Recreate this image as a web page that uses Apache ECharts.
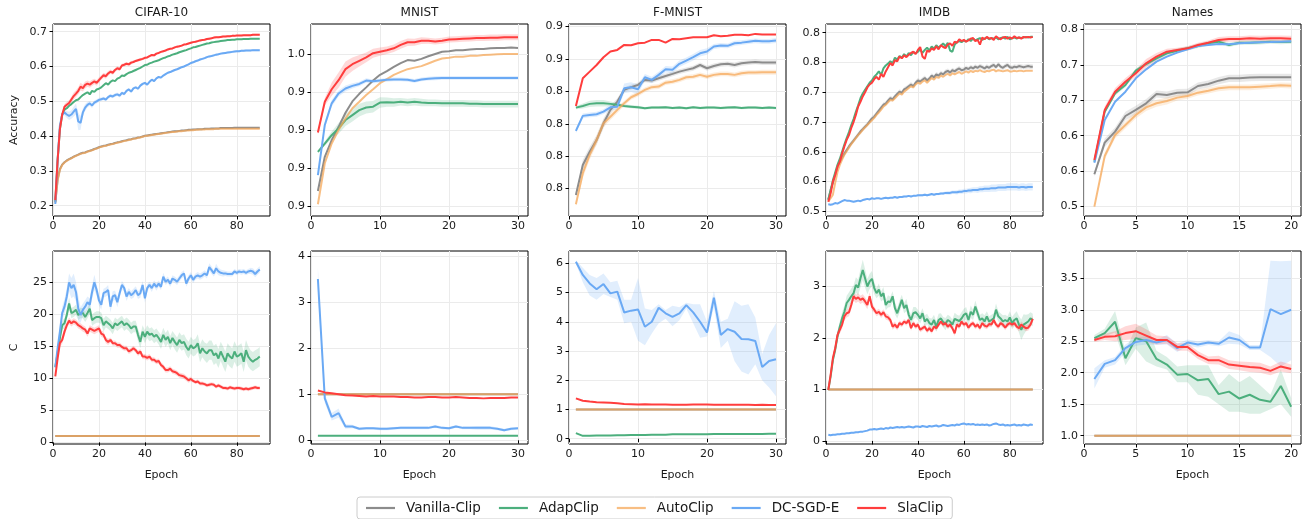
<!DOCTYPE html>
<html>
<head>
<meta charset="utf-8">
<script src="https://cdn.jsdelivr.net/npm/echarts@6/dist/echarts.min.js"></script>
<style>
  html, body { margin: 0; padding: 0; background: #fff; }
  #chart { width: 1310px; height: 519px; }
</style>
</head>
<body>
<div id="chart"></div>
<script>
const methods = ['Vanilla-Clip', 'AdapClip', 'AutoClip', 'DC-SGD-E', 'SlaClip'];
const colors = ['#8c8c8c', '#4caf7d', '#f5a85a', '#6aa9f4', '#ff3d3d'];
const lineAlpha = [1, 1, 0.75, 1, 1];

// ---- CIFAR-10 accuracy (90 epochs)
const cifarAccVanilla = [
  .21,.275,.305,.318,.325,.33,.334,.337,.341,.344,
  .347,.35,.352,.353,.356,.358,.36,.363,.365,.368,
  .37,.372,.373,.375,.377,.378,.38,.382,.383,.385,
  .387,.388,.39,.391,.393,.394,.396,.397,.399,.401,
  .402,.403,.404,.405,.406,.407,.408,.409,.41,.411,
  .412,.413,.414,.414,.415,.416,.416,.417,.418,.418,
  .419,.419,.42,.42,.42,.421,.421,.421,.422,.422,
  .422,.422,.423,.423,.423,.423,.423,.423,.424,.424,
  .424,.424,.424,.424,.424,.424,.424,.424,.424,.424];
const cifarAccAdap = [
  .212,.33,.42,.462,.476,.48,.487,.492,.498,.503,
  .505,.512,.518,.522,.526,.52,.53,.527,.534,.536,
  .54,.546,.552,.548,.556,.56,.558,.565,.568,.574,
  .573,.578,.582,.584,.587,.59,.593,.596,.6,.604,
  .605,.609,.611,.614,.616,.618,.621,.624,.626,.629,
  .631,.634,.636,.638,.641,.643,.645,.647,.65,.652,
  .655,.656,.658,.66,.662,.664,.666,.667,.669,.67,
  .671,.672,.673,.674,.675,.676,.676,.677,.677,.678,
  .678,.678,.679,.679,.679,.68,.68,.68,.68,.68];
const cifarAccAuto = [
  .208,.272,.303,.317,.324,.329,.333,.336,.34,.343,
  .346,.349,.351,.352,.355,.357,.359,.362,.364,.367,
  .369,.371,.372,.374,.376,.377,.379,.381,.382,.384,
  .386,.387,.389,.39,.392,.393,.395,.396,.398,.4,
  .401,.402,.403,.404,.405,.406,.407,.408,.409,.41,
  .411,.412,.412,.413,.414,.414,.415,.416,.416,.417,
  .417,.418,.418,.419,.419,.419,.42,.42,.42,.42,
  .421,.421,.421,.421,.421,.421,.421,.421,.421,.421,
  .421,.421,.421,.421,.421,.421,.421,.421,.421,.421];
const cifarAccDc = [
  .205,.33,.43,.462,.468,.462,.458,.462,.47,.478,
  .442,.438,.468,.482,.49,.494,.488,.496,.5,.504,
  .506,.508,.505,.512,.516,.514,.518,.52,.516,.524,
  .521,.53,.534,.528,.537,.54,.536,.545,.55,.553,
  .548,.556,.562,.558,.566,.57,.568,.574,.578,.582,
  .584,.587,.59,.592,.595,.598,.6,.603,.606,.61,
  .612,.615,.617,.62,.622,.624,.627,.629,.63,.632,
  .634,.635,.637,.638,.639,.64,.641,.642,.643,.644,
  .644,.645,.645,.646,.646,.646,.647,.647,.647,.647];
const cifarAccSla = [
  .216,.33,.42,.462,.484,.49,.495,.505,.515,.522,
  .53,.542,.538,.547,.551,.548,.553,.557,.553,.561,
  .568,.575,.572,.58,.585,.582,.59,.595,.592,.603,
  .605,.608,.606,.611,.613,.616,.618,.62,.622,.625,
  .626,.63,.633,.632,.637,.639,.642,.644,.646,.649,
  .651,.652,.655,.657,.658,.66,.663,.664,.666,.668,
  .67,.671,.673,.675,.676,.677,.679,.68,.681,.683,
  .684,.684,.685,.686,.686,.687,.687,.688,.688,.689,
  .689,.689,.69,.69,.69,.69,.691,.691,.691,.691];
const cifarAccDcSd = [
  .003,.006,.008,.008,.008,.01,.012,.012,.014,.016,
  .025,.02,.012,.01,.008,.007,.007,.006,.006,.006,
  .005,.005,.005,.005,.005,.005,.005,.005,.005,.005,
  .004,.004,.004,.004,.004,.004,.004,.004,.004,.004,
  .003,.003,.003,.003,.003,.003,.003,.003,.003,.003,
  .003,.003,.003,.003,.003,.003,.003,.003,.003,.003,
  .003,.003,.003,.003,.003,.003,.003,.003,.003,.003,
  .003,.003,.003,.003,.003,.003,.003,.003,.003,.003,
  .003,.003,.003,.003,.003,.003,.003,.003,.003,.003];
const cifarAccSlaSd = [
  .003,.006,.008,.008,.008,.008,.008,.009,.01,.01,
  .01,.011,.01,.01,.009,.009,.009,.008,.008,.008,
  .007,.007,.007,.007,.006,.006,.006,.006,.005,.005,
  .005,.005,.005,.005,.004,.004,.004,.004,.004,.004,
  .003,.003,.003,.003,.003,.003,.003,.003,.003,.003,
  .003,.003,.003,.003,.003,.003,.003,.003,.003,.003,
  .003,.003,.003,.003,.003,.003,.003,.003,.003,.003,
  .003,.003,.003,.003,.003,.003,.003,.003,.003,.003,
  .003,.003,.003,.003,.003,.003,.003,.003,.003,.003];

// ---- MNIST accuracy (30 epochs)
const mnistAccVanilla = [0.9139,0.9229,0.9273,0.9308,0.9345,0.9375,0.9395,0.9412,0.943,0.9445,0.9455,0.9466,0.9476,0.9484,0.9482,0.9487,0.9494,0.95,0.9506,0.9507,0.951,0.951,0.9512,0.9513,0.9513,0.9515,0.9516,0.9516,0.9517,0.9516];
const mnistAccAdap = [0.9242,0.9264,0.9286,0.9304,0.9326,0.9339,0.9352,0.9359,0.9361,0.9372,0.9373,0.9372,0.9374,0.9372,0.9374,0.9372,0.9371,0.9371,0.937,0.937,0.937,0.937,0.9369,0.9369,0.9368,0.9368,0.9368,0.9368,0.9368,0.9368];
const mnistAccAuto = [0.9104,0.9212,0.9264,0.93,0.933,0.9357,0.9374,0.9392,0.9407,0.9423,0.9434,0.9445,0.9453,0.946,0.9464,0.9468,0.9475,0.9482,0.9488,0.949,0.9493,0.9493,0.9495,0.9495,0.9497,0.9498,0.9499,0.95,0.95,0.95];
const mnistAccDc = [0.9181,0.9313,0.937,0.9396,0.9409,0.9416,0.9421,0.943,0.9428,0.943,0.9432,0.9433,0.9433,0.9432,0.9429,0.9433,0.9435,0.9436,0.9437,0.9437,0.9437,0.9437,0.9437,0.9437,0.9437,0.9437,0.9437,0.9437,0.9437,0.9437];
const mnistAccSla = [0.9293,0.9374,0.9407,0.9431,0.946,0.9473,0.9482,0.9491,0.9502,0.9506,0.951,0.9515,0.9524,0.9531,0.9531,0.9535,0.9535,0.9533,0.9535,0.9538,0.9539,0.954,0.9541,0.9542,0.9542,0.9543,0.9543,0.9544,0.9544,0.9544];
const mnistAccAdapSd = [0.0003,0.0006,0.001,0.0014,0.0016,0.0017,0.0017,0.0016,0.0015,0.0014,0.0012,0.0011,0.001,0.001,0.001,0.001,0.0009,0.0009,0.0009,0.0009,0.0009,0.0009,0.0009,0.0009,0.0009,0.0009,0.0009,0.0009,0.0009,0.0009];
const mnistAccDcSd = [0.0003,0.0008,0.0009,0.0008,0.0008,0.0007,0.0006,0.0006,0.0005,0.0005,0.0005,0.0005,0.0005,0.0005,0.0005,0.0005,0.0005,0.0005,0.0005,0.0005,0.0005,0.0005,0.0005,0.0005,0.0005,0.0005,0.0005,0.0005,0.0005,0.0005];
const mnistAccSlaSd = [0.0006,0.001,0.0018,0.002,0.002,0.0018,0.0015,0.0013,0.0012,0.0011,0.001,0.001,0.001,0.001,0.0009,0.0009,0.0008,0.0008,0.0008,0.0008,0.0008,0.0008,0.0008,0.0008,0.0008,0.0008,0.0008,0.0008,0.0008,0.0008];

// ---- F-MNIST accuracy (30 epochs)
const fmnistAccVanilla = [0.7761,0.7946,0.8028,0.81,0.8203,0.8286,0.8337,0.8409,0.8426,0.844,0.8471,0.8467,0.8481,0.8495,0.8508,0.8522,0.8533,0.8543,0.8563,0.8543,0.8557,0.8567,0.857,0.8563,0.8574,0.8578,0.8582,0.8578,0.8578,0.8578];
const fmnistAccAdap = [0.83,0.831,0.8323,0.8327,0.8327,0.8323,0.8317,0.831,0.8306,0.8302,0.8296,0.83,0.83,0.8302,0.8298,0.83,0.8296,0.8302,0.8298,0.83,0.83,0.8298,0.83,0.8302,0.8298,0.83,0.83,0.8298,0.83,0.8298];
const fmnistAccAuto = [0.7703,0.7895,0.8008,0.81,0.8203,0.8244,0.8286,0.8327,0.8364,0.8384,0.8409,0.8426,0.843,0.8454,0.846,0.8471,0.8487,0.8491,0.8502,0.8491,0.8502,0.8508,0.8508,0.8502,0.8512,0.8516,0.8516,0.8518,0.8518,0.8518];
const fmnistAccDc = [0.8156,0.8249,0.8255,0.8259,0.8275,0.8302,0.8306,0.8419,0.8426,0.8413,0.8487,0.8471,0.8502,0.8537,0.8533,0.857,0.859,0.8611,0.8635,0.8646,0.8677,0.8683,0.8681,0.8697,0.8701,0.8707,0.8712,0.8709,0.8709,0.8714];
const fmnistAccSla = [0.831,0.8481,0.8522,0.8563,0.8611,0.8646,0.8656,0.8687,0.8685,0.8697,0.8701,0.8718,0.8718,0.8701,0.8724,0.8722,0.8728,0.8734,0.8734,0.8734,0.8747,0.874,0.8744,0.8749,0.8749,0.8747,0.8755,0.8751,0.8751,0.8751];
const fmnistAccAdapSd = [0.001,0.0015,0.002,0.002,0.002,0.0015,0.0012,0.001,0.001,0.001,0.0008,0.0008,0.0008,0.0008,0.0008,0.0008,0.0008,0.0008,0.0008,0.0008,0.0008,0.0008,0.0008,0.0008,0.0008,0.0008,0.0008,0.0008,0.0008,0.0008];
const fmnistAccVanillaSd = [0.001,0.003,0.003,0.003,0.003,0.0025,0.002,0.0015,0.0015,0.0015,0.0015,0.0015,0.0015,0.0015,0.0015,0.0015,0.0015,0.0015,0.0015,0.0015,0.0015,0.0015,0.0015,0.0015,0.0015,0.0015,0.0015,0.0015,0.0015,0.0015];
const fmnistAccAutoSd = [0.001,0.003,0.003,0.003,0.0025,0.002,0.002,0.0015,0.0015,0.0015,0.0015,0.0015,0.0015,0.0015,0.0015,0.0015,0.0015,0.0015,0.0015,0.0015,0.0015,0.0015,0.0015,0.0015,0.0015,0.0015,0.0015,0.0015,0.0015,0.0015];
const fmnistAccDcSd = [0.0015,0.0015,0.0015,0.0015,0.0015,0.002,0.002,0.003,0.003,0.003,0.002,0.002,0.002,0.002,0.002,0.002,0.002,0.002,0.002,0.002,0.0015,0.0015,0.0015,0.0015,0.0015,0.0015,0.0015,0.0015,0.0015,0.0015];

// ---- IMDB accuracy (90 epochs)
const imdbAccVanilla = [
  .519,.536,.548,.561,.575,.583,.59,.597,.603,.609,
  .614,.619,.624,.629,.634,.638,.642,.646,.651,.656,
  .659,.664,.669,.674,.679,.681,.686,.69,.688,.693,
  .697,.701,.699,.705,.707,.71,.713,.71,.716,.72,
  .718,.721,.724,.72,.723,.728,.725,.73,.728,.732,
  .73,.734,.736,.733,.737,.735,.738,.74,.737,.738,
  .741,.739,.742,.74,.743,.741,.744,.742,.74,.743,
  .741,.744,.746,.742,.747,.743,.741,.744,.746,.742,
  .741,.743,.742,.744,.743,.742,.743,.744,.743,.743];
const imdbAccAdap = [
  .52,.535,.552,.565,.578,.588,.6,.612,.623,.633,
  .645,.655,.667,.678,.69,.698,.704,.71,.716,.72,
  .726,.73,.735,.729,.74,.745,.748,.752,.749,.758,
  .755,.761,.758,.764,.76,.766,.762,.768,.765,.768,
  .772,.766,.771,.775,.77,.777,.773,.779,.775,.778,
  .782,.777,.783,.77,.768,.78,.784,.786,.784,.787,
  .785,.789,.786,.79,.787,.789,.791,.788,.79,.792,
  .789,.791,.79,.792,.789,.791,.792,.79,.793,.789,
  .791,.792,.79,.792,.791,.792,.793,.792,.793,.793];
const imdbAccAuto = [
  .516,.522,.528,.548,.566,.578,.587,.595,.601,.607,
  .613,.618,.623,.628,.632,.637,.641,.645,.649,.653,
  .657,.662,.666,.671,.676,.679,.683,.687,.686,.69,
  .694,.698,.696,.701,.704,.707,.71,.708,.713,.716,
  .714,.718,.72,.716,.72,.724,.721,.726,.724,.728,
  .726,.729,.731,.728,.732,.73,.732,.734,.731,.733,
  .735,.733,.736,.734,.736,.735,.737,.735,.734,.736,
  .735,.737,.738,.735,.737,.736,.735,.736,.737,.735,
  .735,.736,.735,.736,.736,.735,.736,.736,.736,.736];
const imdbAccDc = [
  .512,.511,.512,.514,.513,.515,.517,.519,.518,.518,
  .517,.516,.517,.518,.517,.519,.52,.521,.52,.522,
  .521,.522,.522,.521,.522,.523,.522,.523,.523,.524,
  .523,.524,.524,.525,.525,.526,.525,.526,.526,.527,
  .527,.527,.528,.527,.528,.529,.528,.529,.529,.53,
  .53,.531,.531,.531,.532,.532,.532,.533,.533,.534,
  .534,.535,.535,.536,.536,.536,.537,.537,.538,.538,
  .538,.539,.539,.539,.54,.54,.54,.54,.541,.541,
  .541,.541,.541,.54,.541,.541,.54,.541,.541,.541];
const imdbAccSla = [
  .516,.53,.55,.561,.575,.583,.597,.609,.62,.628,
  .64,.65,.662,.676,.684,.693,.7,.708,.713,.716,
  .722,.726,.721,.731,.726,.735,.742,.749,.745,.754,
  .752,.76,.757,.762,.759,.763,.766,.768,.764,.771,
  .776,.76,.756,.77,.768,.774,.771,.777,.772,.779,
  .776,.774,.78,.782,.778,.785,.783,.789,.786,.788,
  .785,.787,.79,.791,.786,.788,.78,.792,.789,.793,
  .79,.791,.788,.794,.791,.789,.792,.793,.79,.792,
  .79,.794,.791,.792,.79,.793,.792,.793,.792,.793];
const imdbAccDcSd = [
  .001,.001,.001,.001,.001,.001,.001,.001,.001,.001,
  .001,.001,.001,.001,.001,.001,.001,.001,.001,.001,
  .001,.001,.001,.001,.001,.001,.001,.001,.001,.001,
  .0015,.0015,.0015,.0015,.0015,.0015,.0015,.0015,.0015,.0015,
  .002,.002,.002,.002,.002,.002,.002,.002,.002,.002,
  .0025,.0025,.003,.003,.003,.003,.0035,.0035,.0035,.004,
  .004,.004,.0045,.0045,.0045,.005,.005,.005,.0055,.0055,
  .0055,.006,.006,.006,.006,.006,.006,.006,.006,.006,
  .006,.006,.006,.006,.006,.006,.006,.006,.006,.006];
const imdbAccVanillaSd = [
  .002,.003,.004,.004,.004,.004,.004,.004,.004,.004,
  .004,.004,.004,.004,.004,.004,.004,.004,.004,.004,
  .004,.004,.004,.004,.004,.004,.004,.004,.004,.004,
  .004,.004,.004,.004,.004,.004,.004,.004,.004,.004,
  .004,.004,.004,.004,.004,.004,.004,.004,.004,.004,
  .004,.004,.004,.004,.004,.004,.004,.004,.004,.004,
  .004,.004,.004,.004,.004,.004,.004,.004,.004,.004,
  .004,.004,.004,.004,.004,.004,.004,.004,.004,.004,
  .004,.004,.004,.004,.004,.004,.004,.004,.004,.004];

// ---- Names accuracy (20 epochs)
const namesAccVanilla = [0.5456,0.5902,0.6057,0.6278,0.6363,0.6457,0.6588,0.6574,0.6607,0.6612,0.6701,0.6729,0.6776,0.6809,0.6809,0.6819,0.6823,0.6823,0.6823,0.6823];
const namesAccAdap = [0.5634,0.6339,0.6598,0.6715,0.6917,0.7011,0.7091,0.7162,0.7199,0.7232,0.7265,0.7303,0.7326,0.7279,0.7312,0.7312,0.7317,0.7326,0.7321,0.7326];
const namesAccAuto = [0.5,0.5714,0.601,0.6151,0.6292,0.64,0.6457,0.649,0.6537,0.656,0.6607,0.6635,0.6668,0.6682,0.6682,0.6682,0.6692,0.6701,0.6711,0.6706];
const namesAccDc = [0.562,0.6222,0.648,0.6621,0.6809,0.6936,0.7044,0.7115,0.7171,0.7218,0.7265,0.7279,0.7293,0.7288,0.7303,0.7312,0.7317,0.7321,0.7326,0.7331];
const namesAccSla = [0.5658,0.6363,0.6621,0.6762,0.688,0.7021,0.7115,0.7185,0.7209,0.7232,0.7279,0.7312,0.735,0.7364,0.7364,0.7373,0.7368,0.7373,0.7373,0.7368];
const namesAccVanillaSd = [0.003,0.006,0.006,0.006,0.006,0.006,0.005,0.005,0.005,0.005,0.005,0.005,0.005,0.005,0.005,0.005,0.005,0.005,0.005,0.005];
const namesAccAdapSd = [0.002,0.003,0.003,0.003,0.003,0.003,0.003,0.003,0.003,0.003,0.003,0.003,0.003,0.003,0.003,0.003,0.003,0.003,0.003,0.003];
const namesAccAutoSd = [0.002,0.005,0.005,0.005,0.005,0.005,0.005,0.005,0.004,0.004,0.004,0.004,0.004,0.004,0.004,0.004,0.004,0.004,0.004,0.004];
const namesAccSlaSd = [0.003,0.005,0.005,0.005,0.005,0.006,0.005,0.004,0.003,0.003,0.003,0.003,0.004,0.004,0.004,0.004,0.004,0.004,0.004,0.004];

// ---- clipping threshold C
const cifarCClip = [
  1,1,1,1,1,1,1,1,1,1, 1,1,1,1,1,1,1,1,1,1, 1,1,1,1,1,1,1,1,1,1,
  1,1,1,1,1,1,1,1,1,1, 1,1,1,1,1,1,1,1,1,1, 1,1,1,1,1,1,1,1,1,1,
  1,1,1,1,1,1,1,1,1,1, 1,1,1,1,1,1,1,1,1,1, 1,1,1,1,1,1,1,1,1,1];
const cifarCAdap = [
  11.8,13.9,16.3,18.3,18.6,19.9,21.7,20.2,20.4,20.7,
  19.9,20.2,20.2,19.6,20.2,20.9,19.1,19.4,19.6,19.6,
  19.4,18.3,18.9,18.6,18.3,17.8,18.6,18.3,18.6,18.9,
  18.3,18.6,18.3,17.8,18.1,18.1,16.8,15.7,17.3,16.5,
  17.3,16.8,17.0,16.5,16.8,16.3,15.7,16.8,16.0,16.5,
  15.5,16.3,15.7,15.2,16.0,15.5,15.7,14.9,14.4,15.2,
  14.7,14.9,15.5,13.9,14.7,14.2,13.9,14.4,14.4,13.6,
  13.9,13.1,14.2,13.4,12.6,13.9,13.4,13.1,14.2,13.4,
  13.6,13.9,12.6,14.4,13.4,12.9,12.6,12.9,13.1,13.4];
const cifarCDc = [
  11.7,14.7,17.3,20.2,21.2,22.8,25.0,24.1,24.6,23.5,
  20.9,19.9,20.7,21.2,21.9,21.5,23.5,25.0,23.8,22.2,
  21.5,23.3,23.5,23.8,21.2,22.8,23.0,21.9,23.3,24.6,
  24.1,22.8,23.5,23.0,23.3,23.8,23.0,23.3,24.6,22.5,
  24.1,24.6,24.1,24.8,24.3,24.8,24.3,25.9,25.1,25.4,
  24.8,25.6,25.4,25.1,25.6,26.1,26.4,24.8,25.6,26.1,
  25.4,25.9,26.1,25.9,26.1,26.4,26.1,27.4,26.9,26.4,
  27.2,26.7,26.5,26.4,26.4,26.3,26.3,26.3,26.7,26.5,
  26.7,26.6,26.7,26.5,26.7,26.8,26.7,26.3,26.7,27.0];
const cifarCSla = [
  10.3,13.1,15.5,16.0,17.3,18.3,19.0,18.6,18.9,18.7,
  18.3,18.1,17.8,17.6,17.0,17.8,17.6,17.4,17.6,17.8,
  17.0,16.8,16.0,15.7,16.0,15.5,15.5,15.2,15.2,14.9,
  14.7,14.7,14.2,14.4,14.7,14.4,13.9,14.2,13.4,13.4,
  13.2,13.4,12.9,12.9,12.6,12.7,12.1,11.8,11.3,11.3,
  11.5,11.1,11.0,10.8,10.5,10.4,10.3,10.0,9.7,9.9,
  9.6,9.4,9.5,9.2,9.2,9.1,8.9,9.0,9.1,9.0,
  8.7,8.9,8.7,8.5,8.5,8.4,8.6,8.5,8.4,8.5,
  8.5,8.4,8.3,8.4,8.3,8.4,8.5,8.6,8.5,8.5];
const cifarCAdapSd = [
  0.3,0.5,0.6,0.7,0.8,0.8,0.9,0.8,0.8,0.8,
  0.8,0.8,0.8,0.8,0.8,0.9,0.9,0.9,0.9,0.9,
  0.9,1.0,0.9,0.9,0.9,0.9,0.9,0.9,0.9,0.9,
  0.9,0.9,0.9,0.9,0.9,0.9,1.0,1.0,1.0,1.0,
  1.0,1.0,1.0,1.0,1.0,1.0,1.1,1.1,1.1,1.1,
  1.1,1.1,1.2,1.2,1.2,1.2,1.2,1.3,1.3,1.3,
  1.3,1.3,1.4,1.4,1.4,1.4,1.5,1.5,1.5,1.5,
  1.5,1.5,1.5,1.6,1.6,1.6,1.6,1.6,1.6,1.6,
  1.6,1.6,1.6,1.6,1.6,1.5,1.5,1.5,1.5,1.5];
const cifarCDcSd = [
  0.3,0.6,0.8,1.0,1.2,1.3,1.4,1.6,1.8,1.5,
  2.0,1.2,1.0,1.0,0.9,1.0,1.1,1.2,0.9,0.8,
  0.8,0.7,0.7,0.8,0.9,0.8,0.7,0.8,0.7,0.6,
  0.6,0.7,0.6,0.6,0.7,0.6,0.6,0.7,0.6,0.7,
  0.6,0.5,0.6,0.5,0.6,0.5,0.5,0.6,0.5,0.5,
  0.5,0.5,0.5,0.5,0.5,0.5,0.5,0.5,0.5,0.5,
  0.5,0.5,0.5,0.5,0.5,0.5,0.5,0.6,0.6,0.5,
  0.7,0.6,0.5,0.5,0.4,0.4,0.4,0.4,0.4,0.4,
  0.4,0.4,0.4,0.4,0.4,0.5,0.5,0.5,0.5,0.5];
const cifarCSlaSd = [
  0.2,0.4,0.6,0.6,0.6,0.6,0.5,0.5,0.5,0.5,
  0.5,0.5,0.5,0.5,0.5,0.5,0.5,0.5,0.5,0.5,
  0.5,0.5,0.5,0.5,0.4,0.4,0.4,0.4,0.4,0.4,
  0.4,0.4,0.4,0.4,0.4,0.4,0.4,0.4,0.4,0.4,
  0.4,0.4,0.4,0.4,0.4,0.4,0.4,0.4,0.4,0.4,
  0.4,0.4,0.4,0.4,0.4,0.4,0.4,0.4,0.4,0.4,
  0.3,0.3,0.3,0.3,0.3,0.3,0.3,0.3,0.3,0.3,
  0.3,0.3,0.3,0.3,0.3,0.3,0.3,0.3,0.3,0.3,
  0.3,0.3,0.3,0.3,0.3,0.3,0.3,0.3,0.3,0.3];

const mnistCClip = [1,1,1,1,1,1,1,1,1,1, 1,1,1,1,1,1,1,1,1,1, 1,1,1,1,1,1,1,1,1,1];
const mnistCAdap = [0.1,0.1,0.1,0.1,0.1,0.1,0.1,0.1,0.1,0.1, 0.1,0.1,0.1,0.1,0.1,0.1,0.1,0.1,0.1,0.1, 0.1,0.1,0.1,0.1,0.1,0.1,0.1,0.1,0.1,0.1];
const mnistCDc = [3.5,0.91,0.51,0.59,0.3,0.3,0.25,0.26,0.26,0.25,0.25,0.26,0.27,0.27,0.27,0.27,0.27,0.3,0.27,0.26,0.3,0.27,0.27,0.27,0.27,0.27,0.25,0.22,0.25,0.26];
const mnistCSla = [1.08,1.04,1.02,1.0,0.98,0.97,0.96,0.95,0.96,0.95,0.95,0.95,0.94,0.94,0.93,0.93,0.94,0.94,0.93,0.93,0.94,0.93,0.92,0.92,0.91,0.92,0.92,0.92,0.93,0.93];
const mnistCDcSd = [0.25,0.1,0.08,0.1,0.05,0.04,0.03,0.03,0.03,0.03,0.03,0.03,0.03,0.03,0.03,0.03,0.03,0.03,0.03,0.03,0.03,0.03,0.03,0.04,0.04,0.04,0.03,0.03,0.03,0.03];

const fmnistCClip = [1,1,1,1,1,1,1,1,1,1, 1,1,1,1,1,1,1,1,1,1, 1,1,1,1,1,1,1,1,1,1];
const fmnistCAdap = [0.19,0.1,0.1,0.11,0.11,0.11,0.12,0.12,0.13,0.13,0.13,0.14,0.14,0.14,0.15,0.15,0.15,0.15,0.15,0.15,0.16,0.16,0.16,0.16,0.16,0.16,0.16,0.16,0.17,0.17];
const fmnistCDc = [6.05,5.6,5.31,5.11,5.29,4.97,5.03,4.32,4.38,4.42,3.83,4.0,4.48,4.29,4.17,4.29,4.57,4.32,4.0,3.63,4.82,3.55,3.75,3.66,3.41,3.4,3.34,2.45,2.66,2.72];
const fmnistCDcLo = [6.0,5.35,4.9,4.75,4.95,4.85,4.75,3.95,4.0,3.35,3.2,3.6,3.95,4.1,3.85,4.05,4.45,3.95,3.45,3.5,4.5,3.1,3.35,2.65,2.3,2.2,2.55,2.0,1.75,1.45];
const fmnistCDcHi = [6.1,5.85,5.6,5.5,5.65,5.35,5.4,4.75,4.75,5.5,4.45,4.4,4.6,4.4,4.55,4.5,4.65,4.6,4.6,4.0,5.05,4.0,4.1,4.7,4.55,4.6,4.15,2.9,3.55,3.95];
const fmnistCSla = [1.38,1.3,1.27,1.25,1.24,1.23,1.21,1.19,1.18,1.17,1.18,1.17,1.17,1.17,1.16,1.16,1.16,1.17,1.17,1.17,1.16,1.16,1.16,1.16,1.16,1.16,1.15,1.16,1.15,1.15];

const imdbCClip = [
  1,1,1,1,1,1,1,1,1,1, 1,1,1,1,1,1,1,1,1,1, 1,1,1,1,1,1,1,1,1,1,
  1,1,1,1,1,1,1,1,1,1, 1,1,1,1,1,1,1,1,1,1, 1,1,1,1,1,1,1,1,1,1,
  1,1,1,1,1,1,1,1,1,1, 1,1,1,1,1,1,1,1,1,1, 1,1,1,1,1,1,1,1,1,1];
const imdbCAdap = [
  0.99,1.25,1.57,1.77,2.03,2.22,2.38,2.51,2.68,2.74,
  2.81,2.87,3.03,2.98,3.16,3.32,3.16,3.0,3.1,3.15,
  2.97,2.87,2.94,2.81,2.87,2.64,2.71,2.7,2.81,2.58,
  2.48,2.61,2.74,2.58,2.64,2.45,2.35,2.48,2.5,2.45,
  2.38,2.48,2.32,2.37,2.29,2.26,2.35,2.22,2.35,2.38,
  2.31,2.27,2.35,2.32,2.26,2.37,2.35,2.33,2.38,2.45,
  2.48,2.35,2.51,2.45,2.61,2.48,2.35,2.38,2.32,2.42,
  2.32,2.35,2.38,2.55,2.42,2.38,2.32,2.35,2.32,2.4,
  2.29,2.35,2.38,2.26,2.16,2.26,2.29,2.32,2.38,2.35];
const imdbCDc = [
  .12,.11,.12,.12,.13,.13,.14,.14,.15,.15,
  .16,.16,.17,.17,.18,.18,.19,.2,.22,.22,
  .23,.22,.23,.24,.23,.25,.24,.26,.25,.26,
  .27,.26,.27,.26,.27,.28,.27,.26,.28,.28,
  .27,.29,.28,.27,.29,.28,.29,.3,.28,.29,
  .31,.3,.29,.3,.31,.3,.32,.31,.33,.34,
  .32,.33,.32,.33,.31,.32,.31,.32,.31,.32,
  .3,.31,.33,.34,.32,.31,.32,.3,.31,.3,
  .31,.32,.3,.31,.3,.32,.31,.3,.32,.31];
const imdbCSla = [
  0.99,1.28,1.61,1.8,2.06,2.16,2.26,2.42,2.48,2.5,
  2.64,2.81,2.76,2.79,2.74,2.77,2.71,2.64,2.81,2.61,
  2.55,2.48,2.51,2.45,2.5,2.42,2.4,2.35,2.22,2.26,
  2.2,2.29,2.26,2.32,2.29,2.35,2.19,2.29,2.22,2.26,
  2.16,2.19,2.22,2.14,2.19,2.13,2.22,2.19,2.26,2.32,
  2.26,2.29,2.22,2.26,2.19,2.09,2.26,2.22,2.32,2.26,
  2.29,2.2,2.26,2.29,2.22,2.26,2.19,2.29,2.24,2.22,
  2.27,2.26,2.35,2.26,2.22,2.29,2.26,2.2,2.26,2.29,
  2.26,2.29,2.22,2.19,2.26,2.22,2.19,2.2,2.26,2.37];
const imdbCAdapSd = [
  .03,.05,.07,.08,.1,.1,.12,.12,.14,.15,
  .15,.15,.15,.15,.18,.2,.18,.15,.15,.15,
  .12,.1,.12,.1,.12,.1,.12,.1,.1,.12,
  .1,.12,.1,.1,.12,.1,.1,.12,.1,.1,
  .1,.1,.12,.1,.1,.12,.1,.1,.12,.1,
  .1,.12,.1,.1,.1,.12,.1,.1,.12,.12,
  .12,.1,.12,.1,.12,.1,.1,.1,.12,.1,
  .1,.1,.1,.12,.1,.1,.12,.1,.1,.12,
  .12,.12,.14,.16,.2,.2,.16,.14,.12,.12];
const imdbCSlaSd = [
  .02,.04,.05,.06,.07,.08,.08,.08,.08,.08,
  .08,.08,.08,.08,.08,.08,.08,.08,.08,.08,
  .06,.06,.06,.06,.06,.06,.06,.06,.06,.06,
  .05,.05,.05,.05,.05,.05,.05,.05,.05,.05,
  .05,.05,.05,.05,.05,.05,.05,.05,.05,.05,
  .05,.05,.05,.05,.05,.05,.05,.05,.05,.05,
  .05,.05,.05,.05,.05,.05,.05,.05,.05,.05,
  .05,.05,.05,.05,.05,.05,.05,.05,.05,.05,
  .05,.05,.05,.06,.06,.06,.06,.06,.06,.06];

const namesCClip = [1,1,1,1,1,1,1,1,1,1, 1,1,1,1,1,1,1,1,1,1];
const namesCAdap = [2.55,2.63,2.81,2.23,2.55,2.5,2.22,2.13,1.97,1.98,1.88,1.9,1.66,1.7,1.59,1.65,1.57,1.54,1.79,1.46];
const namesCAdapLo = [2.5,2.58,2.64,2.12,2.38,2.18,2.1,2.05,1.85,1.85,1.65,1.62,1.5,1.38,1.38,1.35,1.35,1.42,1.5,1.3];
const namesCAdapHi = [2.6,2.7,2.98,2.35,2.72,2.8,2.35,2.25,2.1,2.12,2.12,2.12,1.8,1.98,1.85,1.95,1.8,1.65,2.05,1.6];
const namesCDc = [1.9,2.14,2.2,2.39,2.49,2.52,2.48,2.52,2.39,2.48,2.45,2.48,2.46,2.56,2.52,2.4,2.4,3.01,2.93,3.0];
const namesCDcLo = [1.75,2.08,2.13,2.32,2.43,2.45,2.44,2.45,2.33,2.43,2.4,2.44,2.42,2.46,2.45,2.36,2.36,2.25,2.1,2.2];
const namesCDcHi = [2.07,2.2,2.25,2.45,2.56,2.58,2.52,2.6,2.46,2.53,2.5,2.52,2.5,2.66,2.6,2.44,2.44,3.78,3.77,3.78];
const namesCSla = [2.52,2.57,2.58,2.63,2.66,2.59,2.52,2.52,2.41,2.41,2.28,2.2,2.2,2.13,2.11,2.09,2.08,2.03,2.1,2.06];
const namesCSlaSd = [0.03,0.05,0.08,0.11,0.12,0.1,0.07,0.06,0.06,0.06,0.06,0.06,0.07,0.07,0.07,0.08,0.08,0.07,0.08,0.07];

// ---- tick values and labels
const xTicks90 = [0, 20, 40, 60, 80];
const xTicks30 = [0, 10, 20, 30];
const xTicks20 = [0, 5, 10, 15, 20];
const cifarAccTicks = [0.2, 0.3, 0.4, 0.5, 0.6, 0.7];
const cifarAccLabels = ['0.2', '0.3', '0.4', '0.5', '0.6', '0.7'];
const mnistAccTicks = [0.91, 0.92, 0.93, 0.94, 0.95];
const mnistAccLabels = ['0.9', '0.9', '0.9', '0.9', '1.0'];
const fmnistAccTicks = [0.78, 0.80, 0.82, 0.84, 0.86, 0.88];
const fmnistAccLabels = ['0.8', '0.8', '0.8', '0.8', '0.9', '0.9'];
const imdbAccTicks = [0.50, 0.55, 0.60, 0.65, 0.70, 0.75, 0.80];
const imdbAccLabels = ['0.5', '0.6', '0.6', '0.7', '0.7', '0.8', '0.8'];
const namesAccTicks = [0.50, 0.55, 0.60, 0.65, 0.70, 0.75];
const namesAccLabels = ['0.5', '0.6', '0.6', '0.7', '0.7', '0.8'];
const cifarCTicks = [0, 5, 10, 15, 20, 25];
const cifarCLabels = ['0', '5', '10', '15', '20', '25'];
const mnistCTicks = [0, 1, 2, 3, 4];
const mnistCLabels = ['0', '1', '2', '3', '4'];
const fmnistCTicks = [0, 1, 2, 3, 4, 5, 6];
const fmnistCLabels = ['0', '1', '2', '3', '4', '5', '6'];
const imdbCTicks = [0, 1, 2, 3];
const imdbCLabels = ['0', '1', '2', '3'];
const namesCTicks = [1.0, 1.5, 2.0, 2.5, 3.0, 3.5];
const namesCLabels = ['1.0', '1.5', '2.0', '2.5', '3.0', '3.5'];

const panels = [
  { row: 0, col: 0, title: 'CIFAR-10', xMax: 94.45, xTicks: xTicks90, yMin: 0.1704, yMax: 0.7221,
    yTicks: cifarAccTicks, yLabels: cifarAccLabels, yName: 'Accuracy',
    lines: [cifarAccVanilla, cifarAccAdap, cifarAccAuto, cifarAccDc, cifarAccSla],
    bands: [{ s: 3, sd: cifarAccDcSd }, { s: 4, sd: cifarAccSlaSd }] },
  { row: 0, col: 1, title: 'MNIST', xMax: 31.45, xTicks: xTicks30, yMin: 0.9073, yMax: 0.9579,
    yTicks: mnistAccTicks, yLabels: mnistAccLabels,
    lines: [mnistAccVanilla, mnistAccAdap, mnistAccAuto, mnistAccDc, mnistAccSla],
    bands: [{ s: 1, sd: mnistAccAdapSd }, { s: 3, sd: mnistAccDcSd }, { s: 4, sd: mnistAccSlaSd }] },
  { row: 0, col: 2, title: 'F-MNIST', xMax: 31.45, xTicks: xTicks30, yMin: 0.7631, yMax: 0.8816,
    yTicks: fmnistAccTicks, yLabels: fmnistAccLabels,
    lines: [fmnistAccVanilla, fmnistAccAdap, fmnistAccAuto, fmnistAccDc, fmnistAccSla],
    bands: [{ s: 0, sd: fmnistAccVanillaSd }, { s: 1, sd: fmnistAccAdapSd }, { s: 2, sd: fmnistAccAutoSd },
            { s: 3, sd: fmnistAccDcSd }] },
  { row: 0, col: 3, title: 'IMDB', xMax: 94.45, xTicks: xTicks90, yMin: 0.4922, yMax: 0.8146,
    yTicks: imdbAccTicks, yLabels: imdbAccLabels,
    lines: [imdbAccVanilla, imdbAccAdap, imdbAccAuto, imdbAccDc, imdbAccSla],
    bands: [{ s: 0, sd: imdbAccVanillaSd }, { s: 3, sd: imdbAccDcSd }] },
  { row: 0, col: 4, title: 'Names', xMax: 20.95, xTicks: xTicks20, yMin: 0.4868, yMax: 0.7575,
    yTicks: namesAccTicks, yLabels: namesAccLabels,
    lines: [namesAccVanilla, namesAccAdap, namesAccAuto, namesAccDc, namesAccSla],
    bands: [{ s: 0, sd: namesAccVanillaSd }, { s: 1, sd: namesAccAdapSd }, { s: 2, sd: namesAccAutoSd },
            { s: 4, sd: namesAccSlaSd }] },
  { row: 1, col: 0, xMax: 94.45, xTicks: xTicks90, yMin: -0.26, yMax: 29.9,
    yTicks: cifarCTicks, yLabels: cifarCLabels, yName: 'C',
    lines: [cifarCClip, cifarCAdap, cifarCClip, cifarCDc, cifarCSla],
    bands: [{ s: 1, sd: cifarCAdapSd }, { s: 3, sd: cifarCDcSd }, { s: 4, sd: cifarCSlaSd }] },
  { row: 1, col: 1, xMax: 31.45, xTicks: xTicks30, yMin: -0.08, yMax: 4.108,
    yTicks: mnistCTicks, yLabels: mnistCLabels,
    lines: [mnistCClip, mnistCAdap, mnistCClip, mnistCDc, mnistCSla],
    bands: [{ s: 3, sd: mnistCDcSd }] },
  { row: 1, col: 2, xMax: 31.45, xTicks: xTicks30, yMin: -0.18, yMax: 6.42,
    yTicks: fmnistCTicks, yLabels: fmnistCLabels,
    lines: [fmnistCClip, fmnistCAdap, fmnistCClip, fmnistCDc, fmnistCSla],
    bands: [{ s: 3, lo: fmnistCDcLo, hi: fmnistCDcHi }] },
  { row: 1, col: 3, xMax: 94.45, xTicks: xTicks90, yMin: -0.06, yMax: 3.69,
    yTicks: imdbCTicks, yLabels: imdbCLabels,
    lines: [imdbCClip, imdbCAdap, imdbCClip, imdbCDc, imdbCSla],
    bands: [{ s: 1, sd: imdbCAdapSd }, { s: 4, sd: imdbCSlaSd }] },
  { row: 1, col: 4, xMax: 20.95, xTicks: xTicks20, yMin: 0.868, yMax: 3.934,
    yTicks: namesCTicks, yLabels: namesCLabels,
    lines: [namesCClip, namesCAdap, namesCClip, namesCDc, namesCSla],
    bands: [{ s: 1, lo: namesCAdapLo, hi: namesCAdapHi }, { s: 3, lo: namesCDcLo, hi: namesCDcHi },
            { s: 4, sd: namesCSlaSd }] }
];

const lefts = [53, 311, 569, 826, 1084];
const tops = [24, 251];
const heights = [192, 193];
const plotW = 217;
const font = 'DejaVu Sans';
const textColor = '#1a1a1a';

const grids = [], xAxes = [], yAxes = [], series = [], graphics = [];

// shaded band as one polygon: upper edge forward, lower edge back
function bandSeries(i, xs, lo, hi, color) {
  return {
    type: 'custom', xAxisIndex: i, yAxisIndex: i, silent: true, z: 1,
    data: xs.map((x, k) => [x, lo[k], hi[k]]),
    encode: { x: 0, y: [1, 2] },
    renderItem: (params, api) => {
      if (params.dataIndex !== 0) return null;
      const upper = xs.map((x, k) => api.coord([x, hi[k]]));
      const lower = xs.map((x, k) => api.coord([x, lo[k]])).reverse();
      const cs = params.coordSys;
      return {
        type: 'polygon',
        shape: { points: upper.concat(lower) },
        style: { fill: color, opacity: 0.2 },
        clipPath: { type: 'rect', shape: { x: cs.x, y: cs.y, width: cs.width, height: cs.height } }
      };
    }
  };
}

panels.forEach((p, i) => {
  grids.push({
    left: lefts[p.col], top: tops[p.row], width: plotW, height: heights[p.row],
    show: true, borderColor: '#000', borderWidth: 1, backgroundColor: 'transparent'
  });
  xAxes.push({
    type: 'value', gridIndex: i, min: 0, max: p.xMax,
    name: p.row === 1 ? 'Epoch' : '', nameLocation: 'middle', nameGap: 26,
    nameTextStyle: { fontFamily: font, fontSize: 11, color: textColor },
    axisLine: { show: false },
    axisTick: { show: true, customValues: p.xTicks, length: 3.5, lineStyle: { color: '#000' } },
    axisLabel: { customValues: p.xTicks, fontFamily: font, fontSize: 11, color: textColor, margin: 5 },
    splitLine: { show: true, lineStyle: { color: '#ebebeb', width: 1 } }
  });
  const ticks = p.yTicks, labels = p.yLabels;
  yAxes.push({
    type: 'value', gridIndex: i, min: p.yMin, max: p.yMax,
    name: p.yName || '', nameLocation: 'middle', nameGap: 33, nameRotate: 90,
    nameTextStyle: { fontFamily: font, fontSize: 11, color: textColor },
    axisLine: { show: false },
    axisTick: { show: true, customValues: ticks, length: 3.5, lineStyle: { color: '#000' } },
    axisLabel: {
      customValues: ticks, fontFamily: font, fontSize: 11, color: textColor, margin: 6,
      formatter: v => {
        const k = ticks.findIndex(t => Math.abs(t - v) < 1e-9);
        return k < 0 ? '' : labels[k];
      }
    },
    splitLine: { show: true, lineStyle: { color: '#ebebeb', width: 1 } }
  });

  const xs = p.lines[0].map((_, k) => k + 1);

  p.bands.forEach(b => {
    const mean = p.lines[b.s];
    const lo = b.lo || mean.map((v, k) => v - b.sd[k]);
    const hi = b.hi || mean.map((v, k) => v + b.sd[k]);
    series.push(bandSeries(i, xs, lo, hi, colors[b.s]));
  });

  p.lines.forEach((vals, s) => {
    series.push({
      type: 'line', name: methods[s], xAxisIndex: i, yAxisIndex: i,
      symbol: 'none', z: 2 + s * 0.01,
      color: colors[s],
      lineStyle: { width: 2, color: colors[s], opacity: lineAlpha[s] },
      data: xs.map((x, k) => [x, vals[k]])
    });
  });

  if (p.title) {
    graphics.push({
      type: 'text', x: lefts[p.col] + plotW / 2, y: 13,
      style: {
        text: p.title, fill: textColor, font: '12px "DejaVu Sans"',
        align: 'center', verticalAlign: 'middle', textAlign: 'center', textVerticalAlign: 'middle'
      }
    });
  }
});

const chart = echarts.init(document.getElementById('chart'));
chart.setOption({
  animation: false,
  backgroundColor: '#fff',
  grid: grids,
  xAxis: xAxes,
  yAxis: yAxes,
  graphic: graphics,
  legend: {
    data: methods.map((m, s) => ({ name: m, itemStyle: { color: colors[s], opacity: lineAlpha[s] } })),
    left: 357, top: 497,
    icon: 'rect', itemWidth: 29, itemHeight: 2.2, itemGap: 18,
    padding: [4, 9, 4, 9],
    borderColor: '#cccccc', borderWidth: 1, borderRadius: 3,
    textStyle: { fontFamily: font, fontSize: 13.5, color: textColor, padding: [0, 0, 0, 6] }
  },
  series: series
});
</script>
</body>
</html>
